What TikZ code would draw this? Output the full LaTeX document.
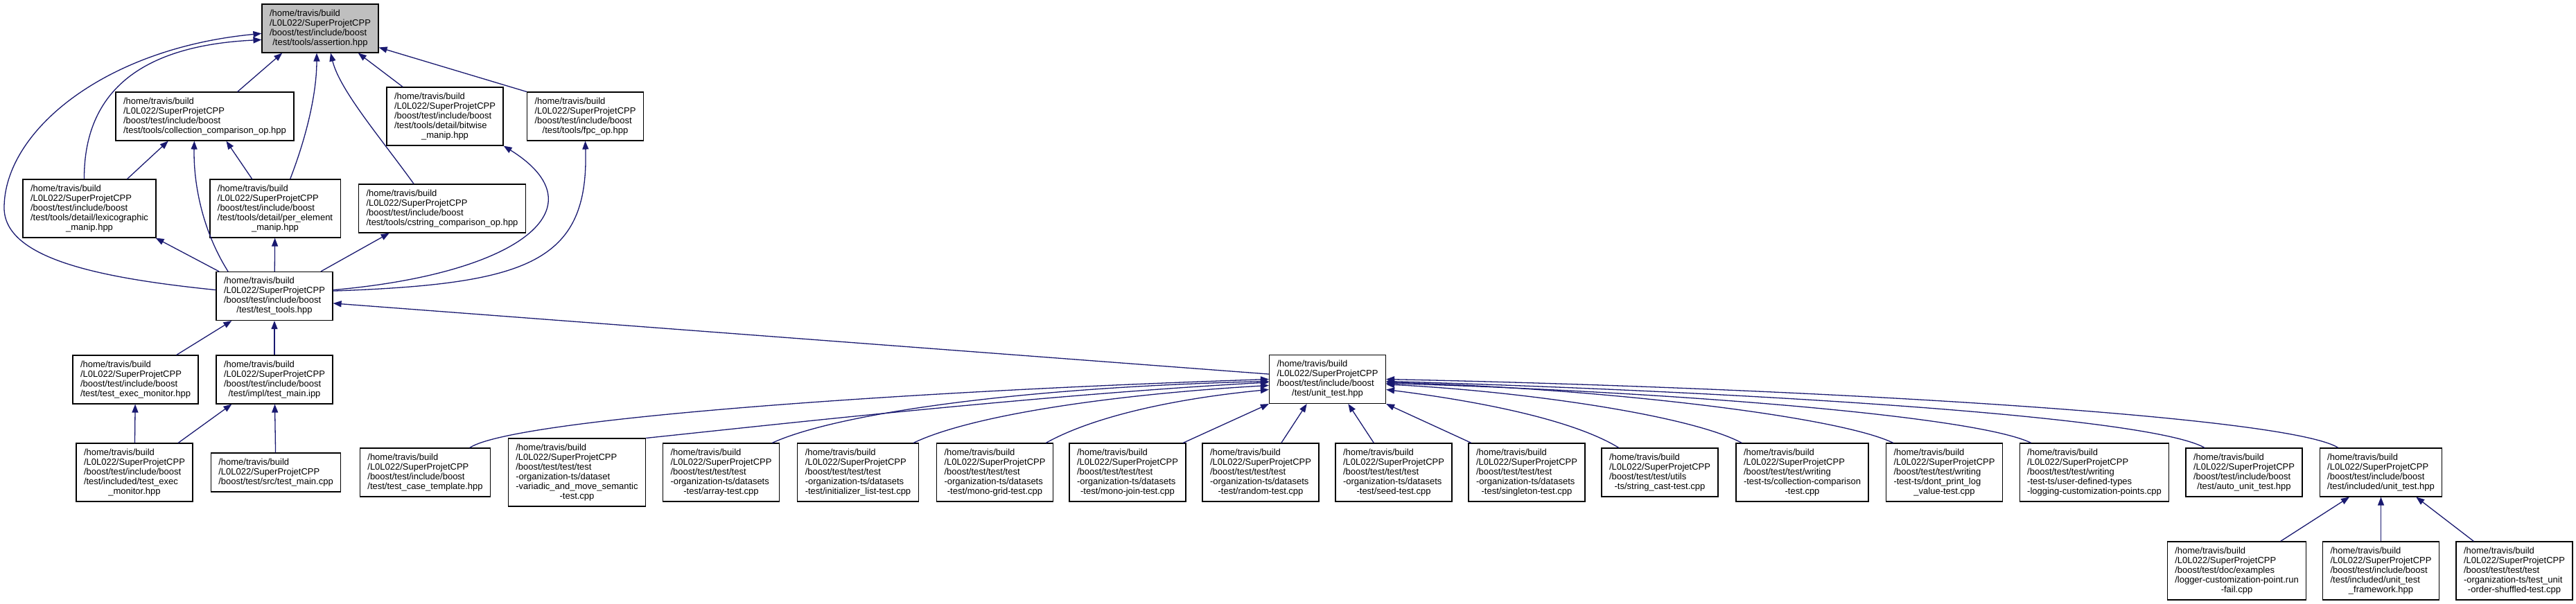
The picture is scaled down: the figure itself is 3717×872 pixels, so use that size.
\documentclass[tikz,border=0pt]{standalone}
\usepackage{fontspec}
\setmainfont{Liberation Sans}
\usetikzlibrary{arrows.meta}
\definecolor{edgeblue}{RGB}{25,25,112}
\definecolor{headgray}{RGB}{191,191,191}
% last line of a label, centred as dot does it
\newcommand{\lastln}[1]{\hfill#1\hfill\mbox{}}

\begin{document}
\begin{tikzpicture}[x=1pt, y=-1pt,
  every node/.style={font=\fontsize{13}{14}\selectfont},
  file/.style={draw=black, line width=1.2pt, fill=white, align=left,
    inner xsep=11pt, inner ysep=7.9pt, minimum width=168pt},
  inc/.style={-{Triangle[length=12pt,width=9pt]}, line width=1.3pt, edgeblue}]
\useasboundingbox (0,0) rectangle (3717,872);

% Rank 0: the file itself
\node[file, fill=headgray] (assert) at (462,41) {/home/travis/build\\/L0L022/SuperProjetCPP\\/boost/test/include/boost\\\lastln{/test/tools/assertion.hpp}};

% Rank 1
\node[file] (collop) at (295.5,168) {/home/travis/build\\/L0L022/SuperProjetCPP\\/boost/test/include/boost\\\lastln{/test/tools/collection\_comparison\_op.hpp}};
\node[file] (bitwise) at (642,168) {/home/travis/build\\/L0L022/SuperProjetCPP\\/boost/test/include/boost\\/test/tools/detail/bitwise\\\lastln{\_manip.hpp}};
\node[file] (fpc) at (844.5,168) {/home/travis/build\\/L0L022/SuperProjetCPP\\/boost/test/include/boost\\\lastln{/test/tools/fpc\_op.hpp}};

% Rank 2
\node[file] (lexico) at (129,301) {/home/travis/build\\/L0L022/SuperProjetCPP\\/boost/test/include/boost\\/test/tools/detail/lexicographic\\\lastln{\_manip.hpp}};
\node[file] (perelem) at (397,301) {/home/travis/build\\/L0L022/SuperProjetCPP\\/boost/test/include/boost\\/test/tools/detail/per\_element\\\lastln{\_manip.hpp}};
\node[file] (cstr) at (638,301) {/home/travis/build\\/L0L022/SuperProjetCPP\\/boost/test/include/boost\\\lastln{/test/tools/cstring\_comparison\_op.hpp}};

% Rank 3
\node[file] (tools) at (396,427.5) {/home/travis/build\\/L0L022/SuperProjetCPP\\/boost/test/include/boost\\\lastln{/test/test\_tools.hpp}};

% Rank 4
\node[file] (execmon) at (195.5,548) {/home/travis/build\\/L0L022/SuperProjetCPP\\/boost/test/include/boost\\\lastln{/test/test\_exec\_monitor.hpp}};
\node[file] (mainipp) at (396,548) {/home/travis/build\\/L0L022/SuperProjetCPP\\/boost/test/include/boost\\\lastln{/test/impl/test\_main.ipp}};
\node[file] (unit) at (1915.5,547.5) {/home/travis/build\\/L0L022/SuperProjetCPP\\/boost/test/include/boost\\\lastln{/test/unit\_test.hpp}};

% Rank 5
\node[file] (incexec) at (194,682) {/home/travis/build\\/L0L022/SuperProjetCPP\\/boost/test/include/boost\\/test/included/test\_exec\\\lastln{\_monitor.hpp}};
\node[file] (srcmain) at (398,682) {/home/travis/build\\/L0L022/SuperProjetCPP\\\lastln{/boost/test/src/test\_main.cpp}};
\node[file] (tcase) at (613.5,682) {/home/travis/build\\/L0L022/SuperProjetCPP\\/boost/test/include/boost\\\lastln{/test/test\_case\_template.hpp}};
\node[file] (variadic) at (832.5,682) {/home/travis/build\\/L0L022/SuperProjetCPP\\/boost/test/test/test\\-organization-ts/dataset\\-variadic\_and\_move\_semantic\\\lastln{-test.cpp}};
\node[file] (array) at (1040.5,682) {/home/travis/build\\/L0L022/SuperProjetCPP\\/boost/test/test/test\\-organization-ts/datasets\\\lastln{-test/array-test.cpp}};
\node[file] (initlist) at (1238,682) {/home/travis/build\\/L0L022/SuperProjetCPP\\/boost/test/test/test\\-organization-ts/datasets\\\lastln{-test/initializer\_list-test.cpp}};
\node[file] (mgrid) at (1435.5,682) {/home/travis/build\\/L0L022/SuperProjetCPP\\/boost/test/test/test\\-organization-ts/datasets\\\lastln{-test/mono-grid-test.cpp}};
\node[file] (mjoin) at (1627,682) {/home/travis/build\\/L0L022/SuperProjetCPP\\/boost/test/test/test\\-organization-ts/datasets\\\lastln{-test/mono-join-test.cpp}};
\node[file] (random) at (1819,682) {/home/travis/build\\/L0L022/SuperProjetCPP\\/boost/test/test/test\\-organization-ts/datasets\\\lastln{-test/random-test.cpp}};
\node[file] (seed) at (2011,682) {/home/travis/build\\/L0L022/SuperProjetCPP\\/boost/test/test/test\\-organization-ts/datasets\\\lastln{-test/seed-test.cpp}};
\node[file] (single) at (2203,682) {/home/travis/build\\/L0L022/SuperProjetCPP\\/boost/test/test/test\\-organization-ts/datasets\\\lastln{-test/singleton-test.cpp}};
\node[file] (strcast) at (2395,682) {/home/travis/build\\/L0L022/SuperProjetCPP\\/boost/test/test/utils\\\lastln{-ts/string\_cast-test.cpp}};
\node[file] (collcmp) at (2600.5,682) {/home/travis/build\\/L0L022/SuperProjetCPP\\/boost/test/test/writing\\-test-ts/collection-comparison\\\lastln{-test.cpp}};
\node[file] (dontprint) at (2805.5,682) {/home/travis/build\\/L0L022/SuperProjetCPP\\/boost/test/test/writing\\-test-ts/dont\_print\_log\\\lastln{\_value-test.cpp}};
\node[file] (userdef) at (3022,682) {/home/travis/build\\/L0L022/SuperProjetCPP\\/boost/test/test/writing\\-test-ts/user-defined-types\\\lastln{-logging-customization-points.cpp}};
\node[file] (autounit) at (3238,682) {/home/travis/build\\/L0L022/SuperProjetCPP\\/boost/test/include/boost\\\lastln{/test/auto\_unit\_test.hpp}};
\node[file] (incunit) at (3435.5,682) {/home/travis/build\\/L0L022/SuperProjetCPP\\/boost/test/include/boost\\\lastln{/test/included/unit\_test.hpp}};

% Rank 6
\node[file] (logger) at (3227.5,824) {/home/travis/build\\/L0L022/SuperProjetCPP\\/boost/test/doc/examples\\/logger-customization-point.run\\\lastln{-fail.cpp}};
\node[file] (framework) at (3435.5,824) {/home/travis/build\\/L0L022/SuperProjetCPP\\/boost/test/include/boost\\/test/included/unit\_test\\\lastln{\_framework.hpp}};
\node[file] (shuffled) at (3628,824) {/home/travis/build\\/L0L022/SuperProjetCPP\\/boost/test/test/test\\-organization-ts/test\_unit\\\lastln{-order-shuffled-test.cpp}};

% Edges into assertion.hpp
\draw[inc] (tools.174) .. controls (150,402) and (6,375) .. (6,300)
  .. controls (6,190) and (150,70) .. (assert.185);
\draw[inc] (lexico.100) .. controls (121,120) and (220,65) .. (assert.191);
\draw[inc] (collop.37) -- (assert.213);
\draw[inc] (perelem.63) .. controls (445,190) and (457,130) .. (assert.262);
\draw[inc] (cstr.139) .. controls (550,200) and (490,130) .. (assert.293);
\draw[inc] (bitwise.145) -- (assert.327);
\draw[inc] (fpc.north west) -- (assert.342);

% Edges into collection_comparison_op.hpp
\draw[inc] (lexico.38) -- (collop.214);
\draw[inc] (tools.152) .. controls (290,330) and (279,260) .. (collop.247);
\draw[inc] (perelem.128) -- (collop.311);

% test_tools.hpp up to the tool headers
\draw[inc] (tools.156) -- (lexico.336);
\draw[inc] (tools) -- (perelem);
\draw[inc] (tools.28) -- (cstr.205);
\draw[inc] (tools.6) .. controls (750,395) and (870,300) .. (bitwise.south east);
\draw[inc] (tools.5) .. controls (760,410) and (850,380) .. (fpc.south);

% Edges into test_tools.hpp
\draw[inc] (execmon.31) -- (tools.210);
\draw[inc] (mainipp) -- (tools);
\draw[inc] (unit.175) -- (tools.353);

% Lower left
\draw[inc] (incexec) -- (execmon);
\draw[inc] (incexec.34) -- (mainipp.210);
\draw[inc] (srcmain) -- (mainipp);

% Edges into unit_test.hpp
\draw[inc] (tcase.29) .. controls (740,605) and (1300,565) .. (unit.180);
\draw[inc] (variadic.north east) .. controls (1100,615) and (1500,570) .. (unit.183);
\draw[inc] (array.30) .. controls (1200,600) and (1450,560) .. (unit.182);
\draw[inc] (initlist.28) .. controls (1400,600) and (1600,570) .. (unit.186);
\draw[inc] (mgrid.30) .. controls (1580,600) and (1700,575) .. (unit.190);
\draw[inc] (mjoin.28) -- (unit.south west);
\draw[inc] (random.55) -- (unit.230);
\draw[inc] (seed.124) -- (unit.310);
\draw[inc] (single.152) -- (unit.south east);
\draw[inc] (strcast.149) .. controls (2260,600) and (2100,575) .. (unit.350);
\draw[inc] (collcmp.154) .. controls (2440,600) and (2200,565) .. (unit.355);
\draw[inc] (dontprint.150) .. controls (2650,600) and (2300,560) .. (unit.357);
\draw[inc] (userdef.155) .. controls (2850,600) and (2400,565) .. (unit.356);
\draw[inc] (autounit.148) .. controls (3100,600) and (2500,565) .. (unit.358);
\draw[inc] (incunit.150) .. controls (3300,600) and (2600,560) .. (unit.0);

% Edges into included/unit_test.hpp
\draw[inc] (logger.34) -- (incunit.218);
\draw[inc] (framework) -- (incunit);
\draw[inc] (shuffled.144) -- (incunit.325);
\end{tikzpicture}
\end{document}
